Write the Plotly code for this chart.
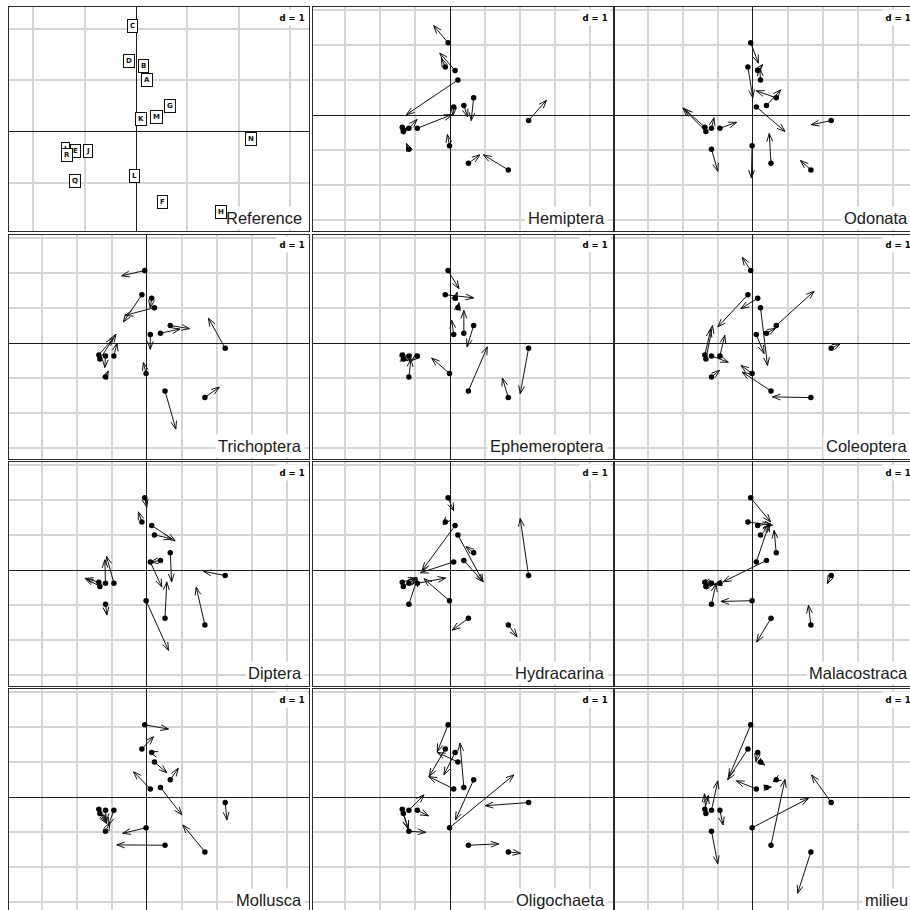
import math
import plotly.graph_objects as go

# Sites (rows of the K tables) and their compromise coordinates on axes 1-2
SITES = list("ABCDEFGHIJKLMNQR")
REF_X = [0.22, 0.14, -0.06, -0.14, -1.18, 0.52, 0.67, 1.66, -1.37, -0.94,
         0.10, -0.02, 0.39, 2.24, -1.18, -1.34]
REF_Y = [1.01, 1.28, 2.07, 1.38, -0.37, -1.37, 0.50, -1.56, -0.34, -0.37,
         0.24, -0.87, 0.28, -0.15, -0.97, -0.46]

# Table-specific site positions (arrow ends), one pair of lists per group
HEMIPTERA_X = [-1.25, -0.30, -0.47, -0.25, -0.95, 0.85, 0.60, 0.95, -1.40, 0.05,
               0.08, -0.08, 0.50, 2.75, -1.25, -1.20]
HEMIPTERA_Y = [0.02, 1.78, 2.56, 1.62, -0.12, -1.13, -0.15, -1.13, -0.30, 0.02,
               0.00, -0.55, -0.05, 0.43, -0.80, -0.35]

ODONATA_X = [0.20, 0.28, 0.16, 0.00, -1.11, 0.47, 0.10, 1.36, -1.95, -0.46,
             0.92, -0.04, 0.80, 1.67, -1.00, -2.00]
ODONATA_Y = [1.35, 1.45, 1.49, 0.50, -0.07, -0.52, 0.70, -1.29, 0.18, -0.20,
             -0.46, -1.79, 0.73, -0.27, -1.60, 0.21]

TRICHOPTERA_X = [-0.62, 0.10, -0.72, -0.67, -1.20, 0.83, 1.22, 2.07, -0.95, -0.85,
                 0.10, -0.10, 0.95, 1.76, -1.10, -0.88]
TRICHOPTERA_Y = [0.79, 1.00, 1.92, 0.60, -0.70, -2.46, 0.41, -1.26, 0.15, 0.00,
                 -0.18, -0.56, 0.40, 0.71, -0.80, 0.25]

EPHEMEROPTERA_X = [0.25, 0.20, 0.25, 0.67, -1.15, 1.06, 0.48, 1.49, -1.25, -1.10,
                   0.04, -0.53, 0.39, 2.00, -1.12, -1.20]
EPHEMEROPTERA_Y = [1.15, 1.45, 1.55, 1.29, -0.55, -0.11, -0.11, -1.00, -0.50, -0.50,
                   0.65, -0.43, 0.93, -1.45, -0.45, -0.50]

COLEOPTERA_X = [0.42, -0.34, -0.30, -1.00, -0.70, -0.30, 1.75, 0.56, -1.20, -0.80,
                0.32, -0.34, 0.65, 2.50, -0.95, -1.15]
COLEOPTERA_Y = [-0.64, 0.98, 2.45, 0.46, -0.55, -0.83, 1.48, -1.54, 0.40, 0.22,
                -0.30, -0.64, 0.42, -0.02, -0.78, 0.50]

DIPTERA_X = [0.71, 0.81, 0.00, -0.24, -1.20, 0.57, 0.71, 1.41, -1.76, -1.15,
             0.43, 0.62, 0.10, 1.62, -1.14, -1.76]
DIPTERA_Y = [0.90, 0.84, 1.80, 1.67, 0.30, -0.33, -0.33, -0.48, -0.23, 0.40,
             -0.48, -2.29, 0.24, -0.03, -1.28, -0.23]

HYDRACARINA_X = [0.94, -0.80, 0.10, -0.20, -0.95, 0.06, 0.45, 1.91, -0.97, -0.13,
                 -0.85, -0.75, 0.94, 2.00, -0.94, -0.97]
HYDRACARINA_Y = [-0.33, 0.00, 1.70, 1.30, -0.20, -1.71, 0.68, -1.90, -0.22, -0.22,
                 -0.07, -0.24, -0.33, 1.48, -0.24, -0.22]

MALACOSTRACA_X = [0.51, 0.51, 0.51, 0.56, -1.10, 0.11, 0.61, 1.59, -1.15, -1.10,
                  0.47, -0.91, -0.85, 2.13, -1.05, -1.12]
MALACOSTRACA_Y = [1.29, 1.33, 1.38, 1.29, -0.40, -2.05, 1.14, -1.00, -0.38, -0.40,
                  1.33, -0.89, -0.33, -0.38, -0.38, -0.40]

MOLLUSCA_X = [0.57, 0.08, 0.62, 0.19, -1.15, -0.86, 0.90, 1.03, -1.15, -1.10,
              -0.38, -0.69, 1.00, 2.29, -1.05, -1.15]
MOLLUSCA_Y = [0.70, 1.30, 1.95, 1.73, -0.70, -1.36, 0.83, -0.79, -0.72, -0.80,
              0.73, -1.03, -0.50, -0.65, -0.72, -0.75]

OLIGOCHAETA_X = [-0.37, -0.18, -0.37, -0.60, -0.75, 1.39, 0.15, 2.01, -1.20, -0.62,
                 -0.61, 1.82, 0.28, 1.00, -0.70, -1.20]
OLIGOCHAETA_Y = [1.28, 0.64, 1.30, 0.60, 0.07, -1.33, -0.65, -1.60, -0.90, -0.53,
                 0.59, 0.64, 1.55, -0.24, -1.00, -0.90]

MILIEU_X = [0.34, 0.09, -0.68, -0.72, -1.00, 0.92, 0.58, 1.28, -1.27, -0.85,
            -0.47, 1.59, 0.53, 1.68, -1.00, -1.38]
MILIEU_Y = [0.92, 1.02, 0.59, 0.50, 0.47, 0.51, 0.45, -2.74, 0.05, -0.79,
            0.47, -0.03, 0.29, 0.64, -1.90, 0.10]

GROUP_NAMES = ["Hemiptera", "Odonata", "Trichoptera", "Ephemeroptera", "Coleoptera",
               "Diptera", "Hydracarina", "Malacostraca", "Mollusca", "Oligochaeta",
               "milieu"]
GROUP_X = [HEMIPTERA_X, ODONATA_X, TRICHOPTERA_X, EPHEMEROPTERA_X, COLEOPTERA_X,
           DIPTERA_X, HYDRACARINA_X, MALACOSTRACA_X, MOLLUSCA_X, OLIGOCHAETA_X, MILIEU_X]
GROUP_Y = [HEMIPTERA_Y, ODONATA_Y, TRICHOPTERA_Y, EPHEMEROPTERA_Y, COLEOPTERA_Y,
           DIPTERA_Y, HYDRACARINA_Y, MALACOSTRACA_Y, MOLLUSCA_Y, OLIGOCHAETA_Y, MILIEU_Y]

# ---- page geometry (pixels) ----
W = H = 910
COL_LEFT = [9.3, 312.7, 615.3]
ROW_TOP = [7.3, 235.0, 462.3, 689.3]
PW, PH = 300.0, 223.5
UNIT = 35.0            # pixels per unit in the group panels
ORIGIN = (137.5, 108.0)
UNIT_REF = 51.3        # pixels per unit in the compromise panel
ORIGIN_REF = (126.7, 124.4)

GRID = "#d5d5d5"
AXIS = "#1c1c1c"
FRAME = "#2b2b2b"

fig = go.Figure()
title_notes = []
site_notes = []


def arrow_path(x0, y0, x1, y1, unit):
    """Shaft plus open head as a polyline (None separated)."""
    dx, dy = x1 - x0, y1 - y0
    L = math.hypot(dx, dy)
    if L < 0.04:
        return [], []
    bx, by = -dx / L, -dy / L
    h = 8.5 / unit
    a = math.radians(20)
    pts = []
    for s in (1, -1):
        rx = bx * math.cos(s * a) - by * math.sin(s * a)
        ry = bx * math.sin(s * a) + by * math.cos(s * a)
        pts.append((x1 + h * rx, y1 + h * ry))
    xs = [x0, x1, None, pts[0][0], x1, pts[1][0], None]
    ys = [y0, y1, None, pts[0][1], y1, pts[1][1], None]
    return xs, ys


panels = ["Reference"] + GROUP_NAMES
layout_axes = {}
for i, name in enumerate(panels):
    r, c = divmod(i, 3)
    n = i + 1
    x0 = COL_LEFT[c]
    y0 = ROW_TOP[r]
    x1 = min(x0 + PW, W)
    y1 = min(y0 + PH, H)
    if name == "Reference":
        unit, (ox, oy) = UNIT_REF, ORIGIN_REF
    else:
        unit, (ox, oy) = UNIT, ORIGIN
    xr = [-ox / unit, (x1 - x0 - ox) / unit]
    yr = [-(y1 - y0 - oy) / unit, oy / unit]
    cut_right = x0 + PW > W
    cut_bottom = y0 + PH > H

    common = dict(showgrid=True, gridcolor=GRID, gridwidth=1.5, dtick=1, tick0=0,
                  zeroline=True, zerolinecolor=AXIS, zerolinewidth=1.3,
                  showticklabels=False, ticks="", showline=True, linecolor=FRAME,
                  linewidth=1, fixedrange=True)
    xa = dict(common, domain=[x0 / W, x1 / W], range=xr, anchor=f"y{n}")
    ya = dict(common, domain=[1 - y1 / H, 1 - y0 / H], range=yr, anchor=f"x{n}")
    if cut_bottom:
        xa.update(side="top", mirror=False)
    else:
        xa.update(mirror=True)
    ya.update(mirror=not cut_right)
    layout_axes[f"xaxis{n if n > 1 else ''}"] = xa
    layout_axes[f"yaxis{n if n > 1 else ''}"] = ya

    xref, yref = f"x{n if n > 1 else ''}", f"y{n if n > 1 else ''}"

    if name == "Reference":
        # label I sits just under R, so draw it first
        order = [8] + [k for k in range(len(SITES)) if k != 8]
        for k in order:
            site_notes.append(dict(
                x=REF_X[k], y=REF_Y[k], xref=xref, yref=yref, text=f"<b>{SITES[k]}</b>",
                showarrow=False, font=dict(family="DejaVu Sans", size=7, color="#111"),
                bgcolor="white", bordercolor="#111", borderwidth=1, borderpad=2))
    else:
        gx, gy = GROUP_X[i - 1], GROUP_Y[i - 1]
        ax_, ay_ = [], []
        for k in range(len(SITES)):
            px, py = arrow_path(REF_X[k], REF_Y[k], gx[k], gy[k], unit)
            ax_ += px
            ay_ += py
        fig.add_trace(go.Scatter(x=ax_, y=ay_, mode="lines", xaxis=xref, yaxis=yref,
                                 line=dict(color="#111", width=1), hoverinfo="skip"))
        fig.add_trace(go.Scatter(x=REF_X, y=REF_Y, mode="markers", xaxis=xref, yaxis=yref,
                                 marker=dict(color="#000", size=5.5), hoverinfo="skip"))

    # scale box and panel title
    right = x0 + PW
    title_notes.append(dict(
        x=(right - 1.5) / W, y=1 - (y0 + 1.5) / H, xref="paper", yref="paper",
        xanchor="right", yanchor="top", text="<b>d = 1</b>", showarrow=False,
        font=dict(family="DejaVu Sans", size=8.5, color="#000"),
        bgcolor="white", borderpad=2.5))
    title_notes.append(dict(
        x=(right - 4.5) / W, y=1 - (y0 + PH - 0.5) / H, xref="paper", yref="paper",
        xanchor="right", yanchor="bottom", text=name, showarrow=False,
        font=dict(family="Liberation Sans, Arial, sans-serif", size=16.5, color="#1a1a1a"),
        bgcolor="white", borderpad=2))

fig.update_layout(width=W, height=H, margin=dict(l=0, r=0, t=0, b=0),
                  paper_bgcolor="white", plot_bgcolor="white", showlegend=False,
                  annotations=title_notes + site_notes, **layout_axes)

fig.write_html("out.html")
